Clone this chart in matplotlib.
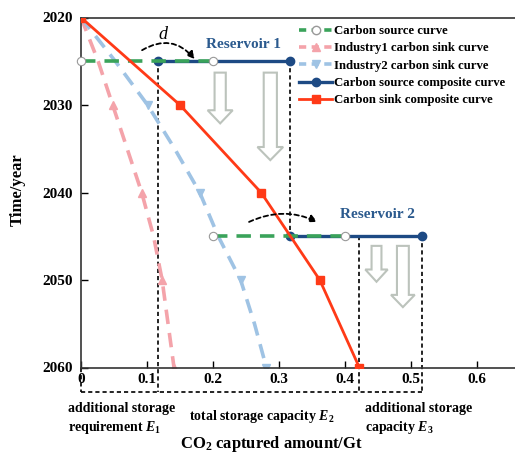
import matplotlib
matplotlib.use("Agg")
import matplotlib.pyplot as plt
from matplotlib.patches import FancyArrowPatch, FancyArrow
from matplotlib.lines import Line2D

plt.rcParams['font.family'] = ['Liberation Serif', 'DejaVu Serif']
plt.rcParams['font.weight'] = 'bold'
plt.rcParams['mathtext.fontset'] = 'custom'
plt.rcParams['mathtext.rm'] = 'Liberation Serif:bold'
plt.rcParams['mathtext.it'] = 'Liberation Serif:italic:bold'
plt.rcParams['mathtext.bf'] = 'Liberation Serif:bold'

# data
years = [2020, 2025, 2030, 2035, 2040, 2045, 2050, 2055, 2060]
industry1 = [0, 0.026, 0.048, 0.070, 0.092, 0.110, 0.123, 0.132, 0.141]
industry2 = [0, 0.052, 0.101, 0.142, 0.180, 0.208, 0.242, 0.263, 0.281]

sink_years = [2020, 2030, 2040, 2050, 2060]
sink_composite = [0, 0.150, 0.273, 0.362, 0.422]

source_x1 = [0, 0.2]
source_x2 = [0.2, 0.4]
source_years = [2025, 2045]
shift_d = 0.117
composite_x1 = [x + shift_d for x in source_x1]
composite_x2 = [x + shift_d for x in source_x2]

GREEN = '#3aa35a'
PINK = '#f4a3aa'
LBLUE = '#9fc3e4'
DBLUE = '#1d4a84'
RED = '#ff3a17'
GRAY = '#bcc3bc'

fig = plt.figure(figsize=(5.15, 4.55), dpi=100)
ax = fig.add_axes([81 / 515, 1 - 367.5 / 455, 436 / 515, 350 / 455])

# sink curves
ax.plot(industry1, years, color=PINK, lw=2.6, dashes=(4, 2.5), marker='^',
        markevery=[0, 2, 4, 6, 8], ms=6, zorder=2)
ax.plot(industry2, years, color=LBLUE, lw=2.6, dashes=(4, 2.5), marker='v',
        markevery=[0, 2, 4, 6, 8], ms=6, zorder=2)

# composite source (drawn below the green dashes)
ax.plot(composite_x1, [source_years[0]] * 2, color=DBLUE, lw=2.4, marker='o', ms=6, zorder=3)
ax.plot(composite_x2, [source_years[1]] * 2, color=DBLUE, lw=2.4, marker='o', ms=6, zorder=3)

# source curve
ax.plot(source_x1, [source_years[0]] * 2, color=GREEN, lw=2.6, dashes=(4, 2.5), zorder=4)
ax.plot(source_x2, [source_years[1]] * 2, color=GREEN, lw=2.6, dashes=(4, 2.5), zorder=4)
ax.plot(source_x1 + source_x2, [source_years[0]] * 2 + [source_years[1]] * 2, ls='none',
        marker='o', ms=6, mfc='white', mec='#999999', mew=0.8, zorder=6, clip_on=False)

# composite sink
ax.plot(sink_composite, sink_years, color=RED, lw=2.0, marker='s', ms=5.5, zorder=5)

# dashed guide lines
ybase = 2062.8
kw = dict(color='black', lw=1.2, dashes=(2.5, 1.8), zorder=1, clip_on=False)
ax.plot([composite_x1[0]] * 2, [source_years[0], ybase], **kw)
ax.plot([composite_x1[1]] * 2, [source_years[0], source_years[1]], **kw)
ax.plot([sink_composite[-1]] * 2, [source_years[1], ybase], **kw)
ax.plot([composite_x2[1]] * 2, [source_years[1], ybase], **kw)
ax.plot([0, 0], [2060, ybase], **kw)
ax.plot([0, composite_x2[1]], [ybase, ybase], **kw)

# curved "d" arrows
for (x0, y0), (x1, y1), rad in [((0.089, 2023.9), (0.175, 2025.0), -0.45),
                                ((0.251, 2043.5), (0.362, 2043.5), -0.25)]:
    ax.add_patch(FancyArrowPatch((x0, y0), (x1, y1), connectionstyle=f"arc3,rad={rad}",
                                 arrowstyle='-|>', mutation_scale=11, color='black',
                                 lw=1.3, ls=(0, (2.5, 1.8)), zorder=6))
ax.text(0.124, 2021.9, 'd', style='italic', weight='normal', fontsize=13, ha='center', va='center')
ax.text(0.247, 2023.1, 'Reservoir 1', color='#2b5a8e', fontsize=11, ha='center', va='center')
ax.text(0.450, 2042.5, 'Reservoir 2', color='#2b5a8e', fontsize=11, ha='center', va='center')

# hollow block arrows (x centre, top, bottom, shaft width, head width, head length)
block_arrows = [(0.211, 2026.3, 2032.1, 0.017, 0.038, 1.5),
                (0.287, 2026.3, 2036.3, 0.020, 0.039, 1.5),
                (0.448, 2046.1, 2050.2, 0.015, 0.034, 1.4),
                (0.488, 2046.1, 2053.1, 0.018, 0.036, 1.4)]
for xc, yt, yb, w, hw, hl in block_arrows:
    ax.add_patch(FancyArrow(xc, yt, 0, yb - yt, width=w, head_width=hw, head_length=hl,
                            length_includes_head=True, fc='white', ec=GRAY, lw=1.5, zorder=3))

# storage annotations under the axis
ax.text(-0.020, 2065.9, 'additional storage\nrequirement $E_1$', fontsize=10,
        ha='left', va='center', linespacing=1.35)
ax.text(0.274, 2065.6, 'total storage capacity $E_2$', fontsize=10, ha='center', va='center')
ax.text(0.430, 2065.9, 'additional storage\ncapacity $E_3$', fontsize=10,
        ha='left', va='center', linespacing=1.35)

ax.set_xlim(0, 0.661)
ax.set_ylim(2060, 2020)
ax.set_xticks([0, 0.1, 0.2, 0.3, 0.4, 0.5, 0.6])
ax.set_xticklabels(['0', '0.1', '0.2', '0.3', '0.4', '0.5', '0.6'])
ax.set_yticks([2020, 2030, 2040, 2050, 2060])
ax.tick_params(direction='in', length=5, width=1, labelsize=11, pad=4)
ax.tick_params(axis='y', pad=6)
for s in ax.spines.values():
    s.set_linewidth(1.2)
    s.set_color('#333333')
ax.spines['right'].set_visible(False)

fig.text(271 / 515, 1 - 444 / 455, 'CO$_2$ captured amount/Gt', fontsize=12, ha='center', va='center')
fig.text(18 / 515, 1 - 190 / 455, 'Time/year', fontsize=12, ha='center', va='center', rotation=90)

handles = [
    Line2D([], [], color=GREEN, lw=2.6, dashes=(2, 1.5), marker='o', mfc='white', mec='#999999', ms=6),
    Line2D([], [], color=PINK, lw=2.6, dashes=(2, 1.5), marker='^', ms=6),
    Line2D([], [], color=LBLUE, lw=2.6, dashes=(2, 1.5), marker='v', ms=6),
    Line2D([], [], color=DBLUE, lw=2.4, marker='o', ms=6),
    Line2D([], [], color=RED, lw=2.0, marker='s', ms=5.5),
]
labels = ['Carbon source curve', 'Industry1 carbon sink curve', 'Industry2 carbon sink curve',
          'Carbon source composite curve', 'Carbon sink composite curve']
fig.legend(handles, labels, loc='upper left', bbox_to_anchor=(299 / 515, 1 - 25 / 455),
           frameon=False, fontsize=9.2, handlelength=2.6, handletextpad=0.15,
           labelspacing=0.42, borderpad=0, borderaxespad=0)

fig.savefig('out.png', dpi=100)
